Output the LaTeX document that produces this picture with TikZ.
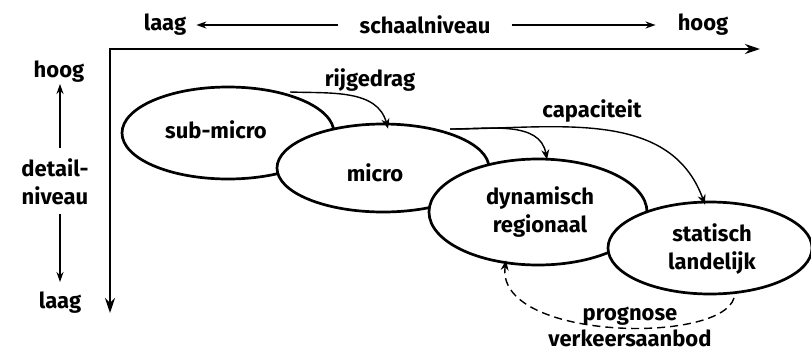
\documentclass[tikz,border=0pt]{standalone}
\usepackage{fontspec}
\setmainfont{Fira Sans}
\usetikzlibrary{shapes.geometric,arrows.meta}
\begin{document}
\begin{tikzpicture}[x=1pt,y=-1pt,
  lbl/.style={font=\fontsize{22}{28}\selectfont\bfseries, inner sep=0pt, align=center},
  level/.style={ellipse, draw, line width=2.7pt, fill=white, inner sep=0pt},
  axis/.style={line width=2.7pt, {Stealth[length=15pt,width=10pt]}-{Stealth[length=15pt,width=10pt]}},
  dirarrow/.style={line width=1.8pt, -{Stealth[length=10pt,width=7pt]}},
  flow/.style={line width=1.4pt, -{Stealth[length=10pt,width=8pt]}},
]
\useasboundingbox (0,0) rectangle (811,354);

% axes
\coordinate (xend) at (760,49);
\coordinate (origin) at (110,49);
\coordinate (yend) at (110,313);
\draw[axis] (xend) -- (origin) -- (yend);

% horizontal direction labels
\node[lbl] (hlow) at (165,25) {laag};
\node[lbl] (hscale) at (425,25) {schaalniveau};
\node[lbl] (hhigh) at (703,25) {hoog};
\draw[dirarrow, shorten <=21pt, shorten >=10pt] (hscale.west) -- (hlow.east);
\draw[dirarrow, shorten <=21pt, shorten >=22pt] (hscale.east) -- (hhigh.west);

% vertical direction labels
\node[lbl] (vhigh) at (59,72) {hoog};
\node[lbl] (vdetail) at (55,182) {detail-\\niveau};
\node[lbl] (vlow) at (60,303) {laag};
\draw[dirarrow, shorten <=11pt, shorten >=1pt] ([xshift=5pt]vdetail.north) -- ([xshift=1pt]vhigh.south);
\draw[dirarrow, shorten <=9pt, shorten >=10pt] ([xshift=5pt]vdetail.south) -- (vlow.north);

% model levels, each drawn over the previous one
\node[level, minimum width=212pt, minimum height=92pt] (sub) at (228,133) {};
\node[lbl] at (216,130) {sub-micro};
\node[level, minimum width=212pt, minimum height=88pt] (micro) at (383,168) {};
\node[lbl] at (375,173) {micro};
\node[level, minimum width=218pt, minimum height=106pt] (dyn) at (538,212) {};
\node[lbl] at (540,212) {dynamisch\\regionaal};
\node[level, minimum width=204pt, minimum height=92pt] (stat) at (710,248) {};
\node[lbl] at (712,249) {statisch\\landelijk};

% flows between levels
\coordinate (r0) at (290,92);
\coordinate (c0) at (450,129);
\draw[flow] (r0) to[out=-2,in=105] ([xshift=5pt,yshift=-6pt]micro.north);
\node[lbl] (rij) at (370,80) {rijgedrag};
\draw[flow] (c0) to[out=0,in=100] ([xshift=9pt,yshift=-2pt]dyn.north);
\draw[flow] (c0) to[out=0,in=110] ([xshift=-5pt,yshift=-4pt]stat.north);
\node[lbl] (cap) at (592,111) {capaciteit};

\coordinate (p0) at (734,298);
\draw[flow, dashed, dash pattern=on 8pt off 5pt]
  (p0) .. controls (720,345) and (495,340) .. ([xshift=-32pt,yshift=6pt]dyn.south);
\node[lbl, font=\fontsize{22}{26}\selectfont\bfseries] (prog) at (630,327) {prognose\\verkeersaanbod};
\end{tikzpicture}
\end{document}
